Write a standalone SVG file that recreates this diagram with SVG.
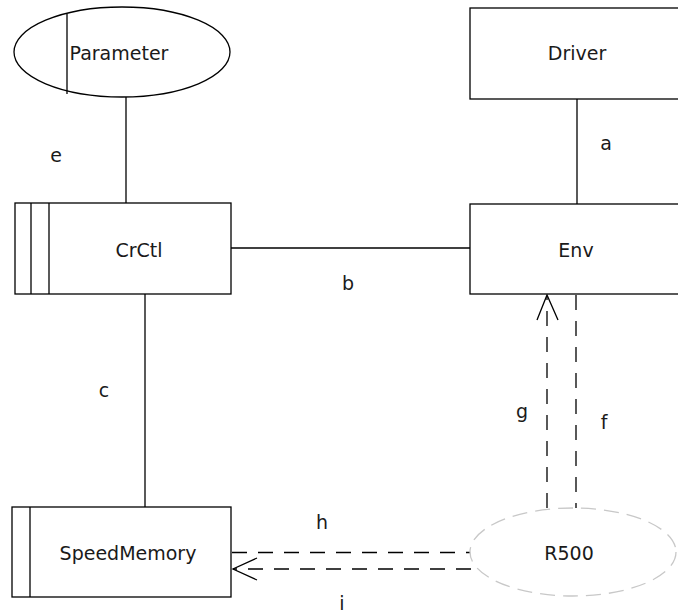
<svg xmlns="http://www.w3.org/2000/svg" width="678" height="616" viewBox="0 0 678 616">
<style>
.s{fill:#fff;stroke:#000;stroke-width:1.3}
.l{fill:none;stroke:#000;stroke-width:1.3}
.d{fill:none;stroke:#000;stroke-width:1.3;stroke-dasharray:15 11}
.t{font-family:"DejaVu Sans",sans-serif;font-size:19px;fill:#1a1a1a;text-anchor:middle;dominant-baseline:central}
</style>
<rect width="678" height="616" fill="#fff"/>
<g id="connectors">
<line class="l" x1="126" y1="97" x2="126" y2="203"/>
<line class="l" x1="577" y1="99" x2="577" y2="204"/>
<line class="l" x1="231" y1="248" x2="470" y2="248"/>
<line class="l" x1="145" y1="294" x2="145" y2="507"/>
<line class="d" x1="547" y1="508" x2="547" y2="296"/>
<polyline class="l" points="537,320 547,295 558,320"/>
<line class="d" x1="576" y1="295" x2="576" y2="508"/>
<line class="d" x1="232" y1="552.5" x2="471" y2="552.5"/>
<line class="d" x1="471" y1="569" x2="233" y2="569"/>
<polyline class="l" points="257,558 233,569 257,580"/>
<text class="t" x="56" y="155">e</text>
<text class="t" x="606" y="143">a</text>
<text class="t" x="348" y="283">b</text>
<text class="t" x="104" y="390">c</text>
<text class="t" x="522" y="411">g</text>
<text class="t" x="604" y="422">f</text>
<text class="t" x="322" y="522">h</text>
<text class="t" x="342" y="603">i</text>
</g>
<g id="Parameter">
<ellipse class="s" cx="122" cy="52" rx="108" ry="45"/>
<line class="l" x1="67" y1="14" x2="67" y2="94"/>
<text class="t" x="119" y="53">Parameter</text>
</g>
<g id="Driver">
<rect class="s" x="470" y="8" width="220" height="91"/>
<text class="t" x="577" y="53">Driver</text>
</g>
<g id="CrCtl">
<rect class="s" x="15" y="203" width="216" height="91"/>
<line class="l" x1="31" y1="203" x2="31" y2="294"/>
<line class="l" x1="49" y1="203" x2="49" y2="294"/>
<text class="t" x="139" y="250">CrCtl</text>
</g>
<g id="Env">
<rect class="s" x="470" y="204" width="220" height="90"/>
<text class="t" x="576" y="250">Env</text>
</g>
<g id="SpeedMemory">
<rect class="s" x="12" y="507" width="219" height="90"/>
<line class="l" x1="30" y1="507" x2="30" y2="597"/>
<text class="t" x="128" y="553">SpeedMemory</text>
</g>
<g id="R500">
<ellipse cx="573" cy="552" rx="103" ry="44" fill="#fff" stroke="#c8c8c8" stroke-width="1.3" stroke-dasharray="15 8"/>
<text class="t" x="569" y="553">R500</text>
</g>
</svg>
